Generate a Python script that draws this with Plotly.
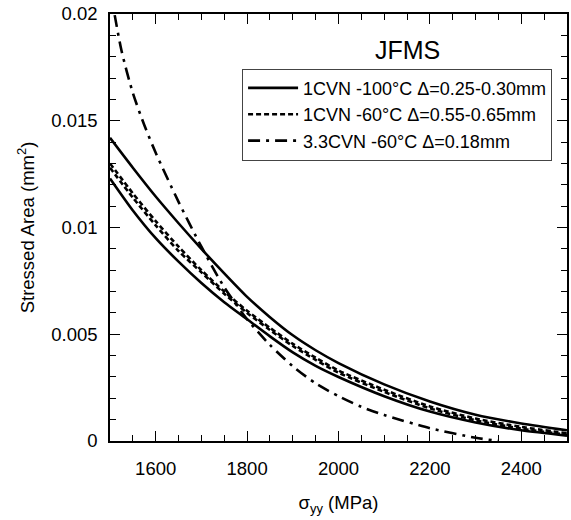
import plotly.graph_objects as go

FONT = "Liberation Sans, Arial, Helvetica, sans-serif"

# sigma_yy (MPa)
sigma = [1500, 1550, 1600, 1650, 1700, 1750, 1800, 1850, 1900, 1950, 2000,
         2100, 2200, 2300, 2400, 2500]

# 1CVN -100°C, Delta = 0.25-0.30 mm (two bounding curves)
solid_upper = [0.0142, 0.0128, 0.01145, 0.0102, 0.0090, 0.00785, 0.00675, 0.0058,
               0.00495, 0.00425, 0.00365, 0.00265, 0.00185, 0.00123, 0.00082, 0.00050]
solid_lower = [0.0123, 0.0108, 0.0095, 0.0084, 0.0074, 0.0065, 0.0057, 0.0049,
               0.00415, 0.00352, 0.0030, 0.0021, 0.00138, 0.00087, 0.00050, 0.00025]

# 1CVN -60°C, Delta = 0.55-0.65 mm (two bounding curves)
dash_a = [0.0130, 0.0116, 0.0103, 0.0091, 0.0080, 0.0070, 0.0061, 0.0053,
          0.00455, 0.0039, 0.0033, 0.0024, 0.00162, 0.00105, 0.00066, 0.00036]
dash_b = [0.0128, 0.0114, 0.0101, 0.0089, 0.0079, 0.0069, 0.0060, 0.0052,
          0.00445, 0.0038, 0.0032, 0.0023, 0.00153, 0.00097, 0.00058, 0.00029]

# 3.3CVN -60°C, Delta = 0.18 mm
sigma_dd = [1500, 1525, 1550, 1575, 1600, 1650, 1700, 1750, 1800, 1850, 1900,
            1950, 2000, 2050, 2100, 2200, 2300, 2350]
dashdot = [0.0212, 0.0183, 0.0163, 0.0148, 0.0135, 0.0112, 0.0091, 0.0072,
           0.0057, 0.0045, 0.0035, 0.0027, 0.0021, 0.0016, 0.00122, 0.0006,
           0.00015, 0.0]

legend_names = ["1CVN -100°C Δ=0.25-0.30mm",
                "1CVN -60°C Δ=0.55-0.65mm",
                "3.3CVN -60°C Δ=0.18mm"]

x_tickvals = [1600, 1800, 2000, 2200, 2400]
x_ticktext = ["1600", "1800", "2000", "2200", "2400"]
y_tickvals = [0, 0.005, 0.01, 0.015, 0.02]
y_ticktext = ["0", "0.005", "0.01", "0.015", "0.02"]

fig = go.Figure()

def line(dash=None):
    d = dict(color="black", width=2.6, shape="spline", smoothing=0.7)
    if dash:
        d["dash"] = dash
    return d

fig.add_trace(go.Scatter(x=sigma, y=solid_upper, mode="lines", name=legend_names[0],
                         line=line(), legendgroup="a"))
fig.add_trace(go.Scatter(x=sigma, y=solid_lower, mode="lines", name=legend_names[0],
                         line=line(), legendgroup="a", showlegend=False))
fig.add_trace(go.Scatter(x=sigma, y=dash_a, mode="lines", name=legend_names[1],
                         line=line("5px,3px"), legendgroup="b"))
fig.add_trace(go.Scatter(x=sigma, y=dash_b, mode="lines", name=legend_names[1],
                         line=line("5px,3px"), legendgroup="b", showlegend=False))
fig.add_trace(go.Scatter(x=sigma_dd, y=dashdot, mode="lines", name=legend_names[2],
                         line=line("12px,6px,3px,6px"), legendgroup="c"))

axis_common = dict(
    showline=True, linecolor="black", linewidth=1.5, mirror="ticks",
    ticks="inside", ticklen=10, tickwidth=1.2, tickcolor="black",
    showgrid=False, zeroline=False, automargin=False,
    tickfont=dict(family=FONT, size=18.5, color="black"),
)

fig.update_xaxes(
    range=[1500, 2500], tickvals=x_tickvals, ticktext=x_ticktext,
    minor=dict(dtick=50, ticks="inside", ticklen=6, tickcolor="black", tickwidth=1.2),
    title=dict(text="σ<sub>yy</sub> (MPa)", font=dict(family=FONT, size=18.5, color="black"),
               standoff=18),
    ticklabelstandoff=10,
    **axis_common,
)
fig.update_yaxes(
    range=[0, 0.02], tickvals=y_tickvals, ticktext=y_ticktext,
    minor=dict(dtick=0.001, ticks="inside", ticklen=6, tickcolor="black", tickwidth=1.2),
    title=dict(text="Stressed Area (mm<sup>2</sup>)", font=dict(family=FONT, size=18.5, color="black"),
               standoff=12),
    ticklabelstandoff=7,
    **axis_common,
)

fig.add_annotation(text="JFMS", x=0.652, y=0.916, xref="paper", yref="paper",
                   showarrow=False, font=dict(family=FONT, size=25, color="black"),
                   xanchor="center", yanchor="middle")

fig.update_layout(
    width=571, height=520,
    margin=dict(l=110, r=4, t=14, b=79),
    plot_bgcolor="white", paper_bgcolor="white",
    font=dict(family=FONT, color="black"),
    legend=dict(x=0.289, y=0.872, xanchor="left", yanchor="top",
                bordercolor="#444", borderwidth=1, bgcolor="white",
                font=dict(family=FONT, size=18, color="black"),
                tracegroupgap=0, itemwidth=50),
    showlegend=True,
)

# remove the browser's default 8px page margin so the figure fills the window exactly
fig.write_html("out.html",
               config={"displayModeBar": False},
               post_script="document.body.style.margin='0';document.body.style.overflow='hidden';")
